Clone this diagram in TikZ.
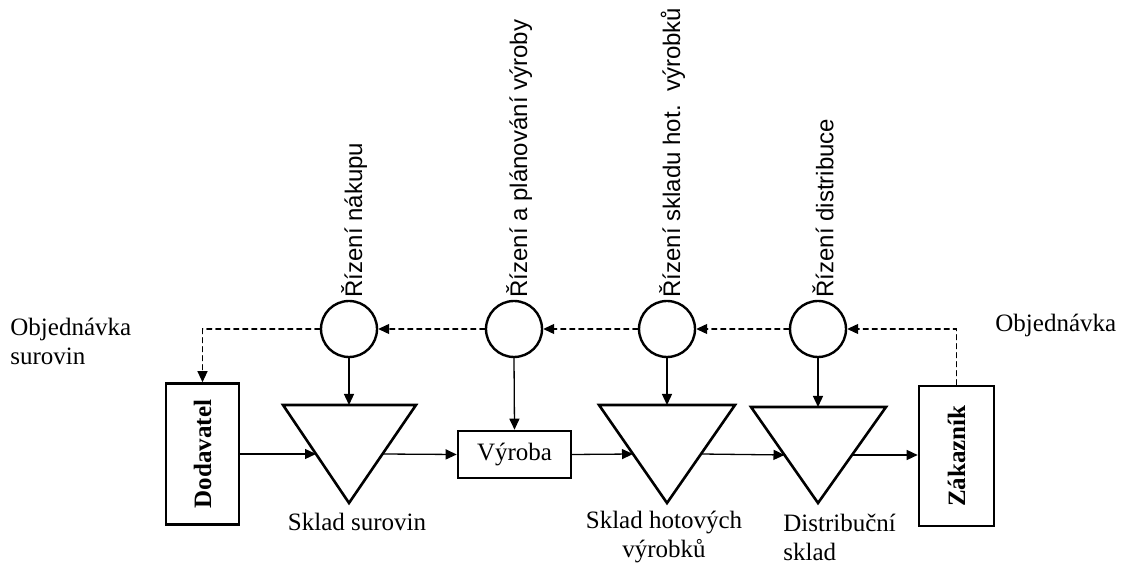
\documentclass[tikz,border=0pt]{standalone}
\usepackage{fontspec}
\setmainfont{Liberation Serif}
\newfontfamily\sansf{Liberation Sans}
\usetikzlibrary{arrows.meta}
\tikzset{>={Triangle[length=5.5pt,width=5pt]}}
\usetikzlibrary{positioning,calc}

\begin{document}
\begin{tikzpicture}[x=0.5pt,y=-0.5pt,line cap=round,
  blk/.style={draw,line width=1.3pt,inner sep=0pt},
  rid/.style={draw,circle,line width=1.2pt,minimum size=28pt,inner sep=0pt},
  ctrl/.style={rotate=90,anchor=west,inner sep=1pt,font=\sansf\fontsize{12}{14}\selectfont},
  txt/.style={inner sep=0pt,font=\fontsize{12.5}{14.5}\selectfont},
  flow/.style={->,line width=0.65pt},
  order/.style={->,line width=0.6pt,dash pattern=on 2.5pt off 2pt}]

  \useasboundingbox (0,0) rectangle (1123,565);


  \node [blk,minimum width=36.5pt,minimum height=70.5pt] (dod) at (202.5,454) {\rotatebox{90}{\fontsize{12.5}{14}\selectfont\bfseries Dodavatel}};
  \node [blk,minimum width=37.5pt,minimum height=70pt] (zak) at (956.5,456) {\rotatebox{90}{\fontsize{12.5}{14}\selectfont\bfseries Zákazník}};
  \node [blk,minimum width=56.5pt,minimum height=23.5pt,font=\fontsize{12.5}{14}\selectfont] (vyr) at (514.5,454.5) {Výroba};


  \draw [line width=1.3pt,line join=miter] (283,405) coordinate (t1a) -- (416,405) coordinate (t1b) -- (349,503) coordinate (t1c) -- cycle;
  \draw [line width=1.3pt,line join=miter] (599,405) coordinate (t2a) -- (735,405) coordinate (t2b) -- (667,503) coordinate (t2c) -- cycle;
  \draw [line width=1.3pt,line join=miter] (751,407) coordinate (t3a) -- (886,407) coordinate (t3b) -- (818,503) coordinate (t3c) -- cycle;


  \node [rid] (c1) at (349,329) {};
  \node [rid] (c2) at (514,329) {};
  \node [rid] (c3) at (667,329) {};
  \node [rid] (c4) at (818,329) {};

  \node [ctrl] (l1) at ([xshift=2.5pt]c1.north) {Řízení nákupu};
  \node [ctrl] (l2) at ([xshift=2.5pt]c2.north) {Řízení a plánování výroby};
  \node [ctrl] (l3) at ([xshift=2.5pt]c3.north) {Řízení skladu hot.\ \ výrobků};
  \node [ctrl] (l4) at ([xshift=2.5pt]c4.north) {Řízení distribuce};


  \draw [flow] (dod.east) -- ($(t1a)!0.5!(t1c)$);
  \draw [flow] ($(t1b)!0.5!(t1c)$) -- (vyr.west);
  \draw [flow] (vyr.east) -- ($(t2a)!0.5!(t2c)$);
  \draw [flow] ($(t2b)!0.5!(t2c)$) -- ($(t3a)!0.5!(t3c)$);
  \draw [flow] ($(t3b)!0.5!(t3c)$) -- (zak.west |- 0,455);

  \draw [flow] (c1.south) -- (c1.south |- t1a);
  \draw [flow] (c2.south) -- (vyr.north);
  \draw [flow] (c3.south) -- (c3.south |- t2a);
  \draw [flow] (c4.south) -- (c4.south |- t3a);


  \draw [order] (zak.north) |- (c4.east);
  \draw [order] (c4.west) -- (c3.east);
  \draw [order] (c3.west) -- (c2.east);
  \draw [order] (c2.west) -- (c1.east);
  \draw [order] (c1.west) -| (dod.north);


  \node [txt] (s1) at (357,522) {Sklad surovin};
  \node [txt,align=center] (s2) at (664,537) {Sklad hotových\\výrobků};
  \node [txt,align=left,anchor=west] (s3) at (783,537) {Distribuční\\sklad};
  \node [txt,align=left,anchor=west] (o1) at (10,341) {Objednávka\\surovin};
  \node [txt,anchor=west] (o2) at (995,325) {Objednávka};



\end{tikzpicture}
\end{document}
